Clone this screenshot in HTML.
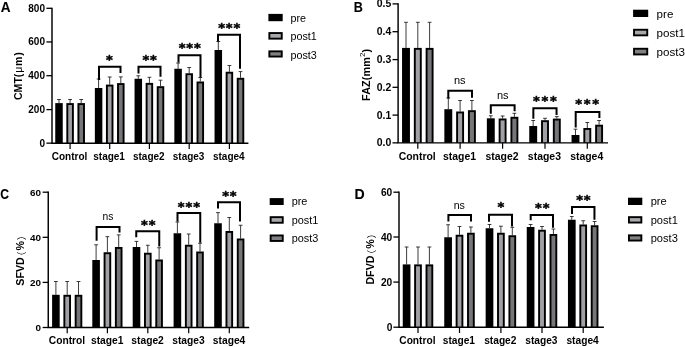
<!DOCTYPE html>
<html><head><meta charset="utf-8"><title>Figure</title>
<style>
html,body{margin:0;padding:0;background:#fff}
svg{display:block}
text{font-family:"Liberation Sans",sans-serif;fill:#000}
.tk{font-size:9.8px;font-weight:bold}
.yl{font-weight:bold;font-family:"Liberation Sans","Noto Sans CJK SC",sans-serif}
.ns{font-size:11px}
.st{font-weight:bold;stroke:#000;stroke-width:0.5px;font-family:"DejaVu Sans","Liberation Sans",sans-serif}
.la{font-weight:bold;stroke:#000;stroke-width:0.1px}
</style></head><body>
<svg width="685" height="347" viewBox="0 0 685 347">
<rect width="685" height="347" fill="#fff"/>
<path d="M59.00 103.10V99.50M57.10 99.50H60.90" stroke="#1a1a1a" stroke-width="0.85" fill="none"/>
<rect x="55.25" y="103.10" width="7.50" height="40.05" fill="#000"/>
<path d="M70.10 103.10V99.50M68.20 99.50H72.00" stroke="#1a1a1a" stroke-width="0.85" fill="none"/>
<rect x="66.35" y="103.10" width="7.50" height="40.05" fill="#000"/><rect x="68.25" y="105.00" width="3.70" height="38.15" fill="#a0a0a5"/>
<path d="M81.20 103.10V99.50M79.30 99.50H83.10" stroke="#1a1a1a" stroke-width="0.85" fill="none"/>
<rect x="77.45" y="103.10" width="7.50" height="40.05" fill="#000"/><rect x="79.35" y="105.00" width="3.70" height="38.15" fill="#767678"/>
<path d="M98.60 88.00V79.00M96.70 79.00H100.50" stroke="#1a1a1a" stroke-width="0.85" fill="none"/>
<rect x="94.85" y="88.00" width="7.50" height="55.15" fill="#000"/>
<path d="M109.70 84.60V77.00M107.80 77.00H111.60" stroke="#1a1a1a" stroke-width="0.85" fill="none"/>
<rect x="105.95" y="84.60" width="7.50" height="58.55" fill="#000"/><rect x="107.85" y="86.50" width="3.70" height="56.65" fill="#a0a0a5"/>
<path d="M120.80 83.10V76.90M118.90 76.90H122.70" stroke="#1a1a1a" stroke-width="0.85" fill="none"/>
<rect x="117.05" y="83.10" width="7.50" height="60.05" fill="#000"/><rect x="118.95" y="85.00" width="3.70" height="58.15" fill="#767678"/>
<path d="M138.30 78.75V75.80M136.40 75.80H140.20" stroke="#1a1a1a" stroke-width="0.85" fill="none"/>
<rect x="134.55" y="78.75" width="7.50" height="64.40" fill="#000"/>
<path d="M149.40 82.90V77.30M147.50 77.30H151.30" stroke="#1a1a1a" stroke-width="0.85" fill="none"/>
<rect x="145.65" y="82.90" width="7.50" height="60.25" fill="#000"/><rect x="147.55" y="84.80" width="3.70" height="58.35" fill="#a0a0a5"/>
<path d="M160.50 86.20V80.20M158.60 80.20H162.40" stroke="#1a1a1a" stroke-width="0.85" fill="none"/>
<rect x="156.75" y="86.20" width="7.50" height="56.95" fill="#000"/><rect x="158.65" y="88.10" width="3.70" height="55.05" fill="#767678"/>
<path d="M178.10 68.75V63.00M176.20 63.00H180.00" stroke="#1a1a1a" stroke-width="0.85" fill="none"/>
<rect x="174.35" y="68.75" width="7.50" height="74.40" fill="#000"/>
<path d="M189.20 73.25V67.50M187.30 67.50H191.10" stroke="#1a1a1a" stroke-width="0.85" fill="none"/>
<rect x="185.45" y="73.25" width="7.50" height="69.90" fill="#000"/><rect x="187.35" y="75.15" width="3.70" height="68.00" fill="#a0a0a5"/>
<path d="M200.30 81.50V77.50M198.40 77.50H202.20" stroke="#1a1a1a" stroke-width="0.85" fill="none"/>
<rect x="196.55" y="81.50" width="7.50" height="61.65" fill="#000"/><rect x="198.45" y="83.40" width="3.70" height="59.75" fill="#767678"/>
<path d="M218.30 50.00V41.50M216.40 41.50H220.20" stroke="#1a1a1a" stroke-width="0.85" fill="none"/>
<rect x="214.55" y="50.00" width="7.50" height="93.15" fill="#000"/>
<path d="M229.40 71.75V65.50M227.50 65.50H231.30" stroke="#1a1a1a" stroke-width="0.85" fill="none"/>
<rect x="225.65" y="71.75" width="7.50" height="71.40" fill="#000"/><rect x="227.55" y="73.65" width="3.70" height="69.50" fill="#a0a0a5"/>
<path d="M240.50 77.80V71.60M238.60 71.60H242.40" stroke="#1a1a1a" stroke-width="0.85" fill="none"/>
<rect x="236.75" y="77.80" width="7.50" height="65.35" fill="#000"/><rect x="238.65" y="79.70" width="3.70" height="63.45" fill="#767678"/>
<path d="M52.00 7.65V143.15H248.40" stroke="#000" stroke-width="1.45" fill="none"/>
<path d="M46.40 8.30H52.00" stroke="#000" stroke-width="1.3"/>
<text x="45.00" y="11.80" text-anchor="end" class="tk" style="font-size:10.0px">800</text>
<path d="M46.40 41.95H52.00" stroke="#000" stroke-width="1.3"/>
<text x="45.00" y="45.45" text-anchor="end" class="tk" style="font-size:10.0px">600</text>
<path d="M46.40 75.70H52.00" stroke="#000" stroke-width="1.3"/>
<text x="45.00" y="79.20" text-anchor="end" class="tk" style="font-size:10.0px">400</text>
<path d="M46.40 109.60H52.00" stroke="#000" stroke-width="1.3"/>
<text x="45.00" y="113.10" text-anchor="end" class="tk" style="font-size:10.0px">200</text>
<path d="M46.40 143.15H52.00" stroke="#000" stroke-width="1.3"/>
<text x="45.00" y="146.65" text-anchor="end" class="tk" style="font-size:10.0px">0</text>
<path d="M70.10 143.15v5.8" stroke="#000" stroke-width="1.2"/>
<text x="69.50" y="159.90" text-anchor="middle" class="tk" style="font-size:10.0px">Control</text>
<path d="M109.70 143.15v5.8" stroke="#000" stroke-width="1.2"/>
<text x="109.10" y="159.90" text-anchor="middle" class="tk" style="font-size:10.0px">stage1</text>
<path d="M149.40 143.15v5.8" stroke="#000" stroke-width="1.2"/>
<text x="148.80" y="159.90" text-anchor="middle" class="tk" style="font-size:10.0px">stage2</text>
<path d="M189.20 143.15v5.8" stroke="#000" stroke-width="1.2"/>
<text x="188.60" y="159.90" text-anchor="middle" class="tk" style="font-size:10.0px">stage3</text>
<path d="M229.40 143.15v5.8" stroke="#000" stroke-width="1.2"/>
<text x="228.80" y="159.90" text-anchor="middle" class="tk" style="font-size:10.0px">stage4</text>
<path d="M99.00 80.00V66.80H120.50V73.00" stroke="#000" stroke-width="2" fill="none" stroke-linejoin="miter"/>
<text x="109.90" y="63.79" text-anchor="middle" class="st" style="font-size:13px;letter-spacing:0.8px">*</text>
<path d="M138.50 73.40V66.80H160.50V76.80" stroke="#000" stroke-width="2" fill="none" stroke-linejoin="miter"/>
<text x="150.10" y="63.79" text-anchor="middle" class="st" style="font-size:13px;letter-spacing:0.8px">**</text>
<path d="M178.50 62.50V55.30H200.50V77.50" stroke="#000" stroke-width="2" fill="none" stroke-linejoin="miter"/>
<text x="190.10" y="52.29" text-anchor="middle" class="st" style="font-size:13px;letter-spacing:0.8px">***</text>
<path d="M218.00 41.50V34.75H240.00V68.80" stroke="#000" stroke-width="2" fill="none" stroke-linejoin="miter"/>
<text x="229.60" y="31.79" text-anchor="middle" class="st" style="font-size:13px;letter-spacing:0.8px">***</text>
<text transform="translate(22.0 100.1) rotate(-90)" class="yl" style="font-size:10.6px">CMT<tspan letter-spacing="0.75">(<tspan font-weight="normal">μ</tspan>m)</tspan></text>
<text transform="translate(0.7 11.8) scale(0.97 1)" class="la" style="font-size:14px">A</text>
<rect x="268.4" y="13.9" width="14.3" height="7.30" fill="#000"/>
<text x="290.5" y="21.5" class="lg" style="font-size:10.75px">pre</text>
<rect x="268.4" y="32.1" width="14.3" height="7.50" fill="#000"/>
<rect x="270.30" y="34.00" width="10.50" height="3.70" fill="#a8a8ab"/>
<text x="290.5" y="40" class="lg" style="font-size:10.75px">post1</text>
<rect x="268.4" y="50.4" width="14.3" height="7.10" fill="#000"/>
<rect x="270.30" y="52.30" width="10.50" height="3.30" fill="#808082"/>
<text x="290.5" y="58.5" class="lg" style="font-size:10.75px">post3</text>
<path d="M406.00 47.90V22.30M404.10 22.30H407.90" stroke="#1a1a1a" stroke-width="0.85" fill="none"/>
<rect x="402.05" y="47.90" width="7.90" height="94.95" fill="#000"/>
<path d="M417.80 47.90V22.30M415.90 22.30H419.70" stroke="#1a1a1a" stroke-width="0.85" fill="none"/>
<rect x="413.85" y="47.90" width="7.90" height="94.95" fill="#000"/><rect x="415.75" y="49.80" width="4.10" height="93.05" fill="#a0a0a5"/>
<path d="M429.60 47.90V22.30M427.70 22.30H431.50" stroke="#1a1a1a" stroke-width="0.85" fill="none"/>
<rect x="425.65" y="47.90" width="7.90" height="94.95" fill="#000"/><rect x="427.55" y="49.80" width="4.10" height="93.05" fill="#767678"/>
<path d="M448.30 109.20V98.00M446.40 98.00H450.20" stroke="#1a1a1a" stroke-width="0.85" fill="none"/>
<rect x="444.35" y="109.20" width="7.90" height="33.65" fill="#000"/>
<path d="M460.10 111.50V100.50M458.20 100.50H462.00" stroke="#1a1a1a" stroke-width="0.85" fill="none"/>
<rect x="456.15" y="111.50" width="7.90" height="31.35" fill="#000"/><rect x="458.05" y="113.40" width="4.10" height="29.45" fill="#a0a0a5"/>
<path d="M471.90 110.20V100.50M470.00 100.50H473.80" stroke="#1a1a1a" stroke-width="0.85" fill="none"/>
<rect x="467.95" y="110.20" width="7.90" height="32.65" fill="#000"/><rect x="469.85" y="112.10" width="4.10" height="30.75" fill="#767678"/>
<path d="M490.80 118.30V115.80M488.90 115.80H492.70" stroke="#1a1a1a" stroke-width="0.85" fill="none"/>
<rect x="486.85" y="118.30" width="7.90" height="24.55" fill="#000"/>
<path d="M502.60 118.50V116.00M500.70 116.00H504.50" stroke="#1a1a1a" stroke-width="0.85" fill="none"/>
<rect x="498.65" y="118.50" width="7.90" height="24.35" fill="#000"/><rect x="500.55" y="120.40" width="4.10" height="22.45" fill="#a0a0a5"/>
<path d="M514.40 116.80V113.30M512.50 113.30H516.30" stroke="#1a1a1a" stroke-width="0.85" fill="none"/>
<rect x="510.45" y="116.80" width="7.90" height="26.05" fill="#000"/><rect x="512.35" y="118.70" width="4.10" height="24.15" fill="#767678"/>
<path d="M533.20 126.00V120.50M531.30 120.50H535.10" stroke="#1a1a1a" stroke-width="0.85" fill="none"/>
<rect x="529.25" y="126.00" width="7.90" height="16.85" fill="#000"/>
<path d="M545.00 120.20V118.30M543.10 118.30H546.90" stroke="#1a1a1a" stroke-width="0.85" fill="none"/>
<rect x="541.05" y="120.20" width="7.90" height="22.65" fill="#000"/><rect x="542.95" y="122.10" width="4.10" height="20.75" fill="#a0a0a5"/>
<path d="M556.80 118.60V116.60M554.90 116.60H558.70" stroke="#1a1a1a" stroke-width="0.85" fill="none"/>
<rect x="552.85" y="118.60" width="7.90" height="24.25" fill="#000"/><rect x="554.75" y="120.50" width="4.10" height="22.35" fill="#767678"/>
<path d="M575.50 135.00V129.20M573.60 129.20H577.40" stroke="#1a1a1a" stroke-width="0.85" fill="none"/>
<rect x="571.55" y="135.00" width="7.90" height="7.85" fill="#000"/>
<path d="M587.30 128.00V122.50M585.40 122.50H589.20" stroke="#1a1a1a" stroke-width="0.85" fill="none"/>
<rect x="583.35" y="128.00" width="7.90" height="14.85" fill="#000"/><rect x="585.25" y="129.90" width="4.10" height="12.95" fill="#a0a0a5"/>
<path d="M599.10 124.70V120.50M597.20 120.50H601.00" stroke="#1a1a1a" stroke-width="0.85" fill="none"/>
<rect x="595.15" y="124.70" width="7.90" height="18.15" fill="#000"/><rect x="597.05" y="126.60" width="4.10" height="16.25" fill="#767678"/>
<path d="M398.10 3.25V142.85H608.00" stroke="#000" stroke-width="1.45" fill="none"/>
<path d="M392.50 3.90H398.10" stroke="#000" stroke-width="1.3"/>
<text x="391.20" y="7.40" text-anchor="end" class="tk" style="font-size:10.45px">0.5</text>
<path d="M392.50 31.70H398.10" stroke="#000" stroke-width="1.3"/>
<text x="391.20" y="35.20" text-anchor="end" class="tk" style="font-size:10.45px">0.4</text>
<path d="M392.50 59.60H398.10" stroke="#000" stroke-width="1.3"/>
<text x="391.20" y="63.10" text-anchor="end" class="tk" style="font-size:10.45px">0.3</text>
<path d="M392.50 87.30H398.10" stroke="#000" stroke-width="1.3"/>
<text x="391.20" y="90.80" text-anchor="end" class="tk" style="font-size:10.45px">0.2</text>
<path d="M392.50 115.10H398.10" stroke="#000" stroke-width="1.3"/>
<text x="391.20" y="118.60" text-anchor="end" class="tk" style="font-size:10.45px">0.1</text>
<path d="M392.50 142.85H398.10" stroke="#000" stroke-width="1.3"/>
<text x="391.20" y="146.35" text-anchor="end" class="tk" style="font-size:10.45px">0.0</text>
<path d="M417.80 142.85v5.8" stroke="#000" stroke-width="1.2"/>
<text x="417.20" y="160.00" text-anchor="middle" class="tk" style="font-size:10.45px">Control</text>
<path d="M460.10 142.85v5.8" stroke="#000" stroke-width="1.2"/>
<text x="459.50" y="160.00" text-anchor="middle" class="tk" style="font-size:10.45px">stage1</text>
<path d="M502.60 142.85v5.8" stroke="#000" stroke-width="1.2"/>
<text x="502.00" y="160.00" text-anchor="middle" class="tk" style="font-size:10.45px">stage2</text>
<path d="M545.00 142.85v5.8" stroke="#000" stroke-width="1.2"/>
<text x="544.40" y="160.00" text-anchor="middle" class="tk" style="font-size:10.45px">stage3</text>
<path d="M587.30 142.85v5.8" stroke="#000" stroke-width="1.2"/>
<text x="586.70" y="160.00" text-anchor="middle" class="tk" style="font-size:10.45px">stage4</text>
<path d="M448.30 98.50V90.80H472.00V97.75" stroke="#000" stroke-width="2" fill="none" stroke-linejoin="miter"/>
<text x="459.80" y="84.30" text-anchor="middle" class="ns" style="font-size:11px">ns</text>
<path d="M490.80 113.75V105.20H514.60V111.25" stroke="#000" stroke-width="2" fill="none" stroke-linejoin="miter"/>
<text x="502.70" y="98.50" text-anchor="middle" class="ns" style="font-size:11px">ns</text>
<path d="M533.35 118.75V108.20H556.55V115.00" stroke="#000" stroke-width="2" fill="none" stroke-linejoin="miter"/>
<text x="545.65" y="104.63" text-anchor="middle" class="st" style="font-size:13px;letter-spacing:1.7px">***</text>
<path d="M575.70 127.50V112.00H599.40V118.00" stroke="#000" stroke-width="2" fill="none" stroke-linejoin="miter"/>
<text x="588.05" y="107.63" text-anchor="middle" class="st" style="font-size:13px;letter-spacing:1.7px">***</text>
<text transform="translate(370.4 100.9) rotate(-90)" class="yl" style="font-size:10.8px"><tspan letter-spacing="0.1">FAZ(mm<tspan dy="-5.2" font-size="8" font-weight="normal">2</tspan><tspan dy="5.2">)</tspan></tspan></text>
<text transform="translate(353.8 11.9) scale(0.84 1)" class="la" style="font-size:15px">B</text>
<rect x="633.1" y="9.7" width="15.1" height="7.30" fill="#000"/>
<text x="656.6" y="17.6" class="lg" style="font-size:11.6px">pre</text>
<rect x="633.1" y="28.8" width="15.1" height="7.50" fill="#000"/>
<rect x="635.00" y="30.70" width="11.30" height="3.70" fill="#a8a8ab"/>
<text x="656.6" y="36.9" class="lg" style="font-size:11.6px">post1</text>
<rect x="633.1" y="47.8" width="15.1" height="7.60" fill="#000"/>
<rect x="635.00" y="49.70" width="11.30" height="3.80" fill="#808082"/>
<text x="656.6" y="55.8" class="lg" style="font-size:11.6px">post3</text>
<path d="M55.90 294.80V281.50M54.00 281.50H57.80" stroke="#1a1a1a" stroke-width="0.85" fill="none"/>
<rect x="52.10" y="294.80" width="7.60" height="32.70" fill="#000"/>
<path d="M67.20 294.80V281.50M65.30 281.50H69.10" stroke="#1a1a1a" stroke-width="0.85" fill="none"/>
<rect x="63.40" y="294.80" width="7.60" height="32.70" fill="#000"/><rect x="65.30" y="296.70" width="3.80" height="30.80" fill="#a0a0a5"/>
<path d="M78.50 294.80V281.50M76.60 281.50H80.40" stroke="#1a1a1a" stroke-width="0.85" fill="none"/>
<rect x="74.70" y="294.80" width="7.60" height="32.70" fill="#000"/><rect x="76.60" y="296.70" width="3.80" height="30.80" fill="#767678"/>
<path d="M96.10 260.00V244.80M94.20 244.80H98.00" stroke="#1a1a1a" stroke-width="0.85" fill="none"/>
<rect x="92.30" y="260.00" width="7.60" height="67.50" fill="#000"/>
<path d="M107.40 252.25V236.70M105.50 236.70H109.30" stroke="#1a1a1a" stroke-width="0.85" fill="none"/>
<rect x="103.60" y="252.25" width="7.60" height="75.25" fill="#000"/><rect x="105.50" y="254.15" width="3.80" height="73.35" fill="#a0a0a5"/>
<path d="M118.70 247.00V234.90M116.80 234.90H120.60" stroke="#1a1a1a" stroke-width="0.85" fill="none"/>
<rect x="114.90" y="247.00" width="7.60" height="80.50" fill="#000"/><rect x="116.80" y="248.90" width="3.80" height="78.60" fill="#767678"/>
<path d="M136.50 247.00V241.40M134.60 241.40H138.40" stroke="#1a1a1a" stroke-width="0.85" fill="none"/>
<rect x="132.70" y="247.00" width="7.60" height="80.50" fill="#000"/>
<path d="M147.80 252.75V245.30M145.90 245.30H149.70" stroke="#1a1a1a" stroke-width="0.85" fill="none"/>
<rect x="144.00" y="252.75" width="7.60" height="74.75" fill="#000"/><rect x="145.90" y="254.65" width="3.80" height="72.85" fill="#a0a0a5"/>
<path d="M159.10 259.50V247.75M157.20 247.75H161.00" stroke="#1a1a1a" stroke-width="0.85" fill="none"/>
<rect x="155.30" y="259.50" width="7.60" height="68.00" fill="#000"/><rect x="157.20" y="261.40" width="3.80" height="66.10" fill="#767678"/>
<path d="M177.40 233.25V222.00M175.50 222.00H179.30" stroke="#1a1a1a" stroke-width="0.85" fill="none"/>
<rect x="173.60" y="233.25" width="7.60" height="94.25" fill="#000"/>
<path d="M188.70 244.75V234.00M186.80 234.00H190.60" stroke="#1a1a1a" stroke-width="0.85" fill="none"/>
<rect x="184.90" y="244.75" width="7.60" height="82.75" fill="#000"/><rect x="186.80" y="246.65" width="3.80" height="80.85" fill="#a0a0a5"/>
<path d="M200.00 251.50V243.25M198.10 243.25H201.90" stroke="#1a1a1a" stroke-width="0.85" fill="none"/>
<rect x="196.20" y="251.50" width="7.60" height="76.00" fill="#000"/><rect x="198.10" y="253.40" width="3.80" height="74.10" fill="#767678"/>
<path d="M218.00 223.25V212.60M216.10 212.60H219.90" stroke="#1a1a1a" stroke-width="0.85" fill="none"/>
<rect x="214.20" y="223.25" width="7.60" height="104.25" fill="#000"/>
<path d="M229.30 231.00V217.50M227.40 217.50H231.20" stroke="#1a1a1a" stroke-width="0.85" fill="none"/>
<rect x="225.50" y="231.00" width="7.60" height="96.50" fill="#000"/><rect x="227.40" y="232.90" width="3.80" height="94.60" fill="#a0a0a5"/>
<path d="M240.60 238.50V225.25M238.70 225.25H242.50" stroke="#1a1a1a" stroke-width="0.85" fill="none"/>
<rect x="236.80" y="238.50" width="7.60" height="89.00" fill="#000"/><rect x="238.70" y="240.40" width="3.80" height="87.10" fill="#767678"/>
<path d="M48.25 191.55V327.50H249.20" stroke="#000" stroke-width="1.45" fill="none"/>
<path d="M42.65 192.20H48.25" stroke="#000" stroke-width="1.3"/>
<text x="41.00" y="195.70" text-anchor="end" class="tk" style="font-size:9.9px">60</text>
<path d="M42.65 237.30H48.25" stroke="#000" stroke-width="1.3"/>
<text x="41.00" y="240.80" text-anchor="end" class="tk" style="font-size:9.9px">40</text>
<path d="M42.65 282.40H48.25" stroke="#000" stroke-width="1.3"/>
<text x="41.00" y="285.90" text-anchor="end" class="tk" style="font-size:9.9px">20</text>
<path d="M42.65 327.50H48.25" stroke="#000" stroke-width="1.3"/>
<text x="41.00" y="331.00" text-anchor="end" class="tk" style="font-size:9.9px">0</text>
<path d="M67.20 327.50v5.8" stroke="#000" stroke-width="1.2"/>
<text x="67.00" y="344.10" text-anchor="middle" class="tk" style="font-size:10.25px">Control</text>
<path d="M107.40 327.50v5.8" stroke="#000" stroke-width="1.2"/>
<text x="107.20" y="344.10" text-anchor="middle" class="tk" style="font-size:10.25px">stage1</text>
<path d="M147.80 327.50v5.8" stroke="#000" stroke-width="1.2"/>
<text x="147.60" y="344.10" text-anchor="middle" class="tk" style="font-size:10.25px">stage2</text>
<path d="M188.70 327.50v5.8" stroke="#000" stroke-width="1.2"/>
<text x="188.50" y="344.10" text-anchor="middle" class="tk" style="font-size:10.25px">stage3</text>
<path d="M229.30 327.50v5.8" stroke="#000" stroke-width="1.2"/>
<text x="229.10" y="344.10" text-anchor="middle" class="tk" style="font-size:10.25px">stage4</text>
<path d="M96.60 240.70V227.00H119.50V232.50" stroke="#000" stroke-width="2" fill="none" stroke-linejoin="miter"/>
<text x="108.00" y="220.40" text-anchor="middle" class="ns" style="font-size:10.3px">ns</text>
<path d="M136.25 237.15V231.15H159.25V246.50" stroke="#000" stroke-width="2" fill="none" stroke-linejoin="miter"/>
<text x="148.75" y="228.99" text-anchor="middle" class="st" style="font-size:13px;letter-spacing:0.9px">**</text>
<path d="M177.50 221.50V212.95H200.25V242.80" stroke="#000" stroke-width="2" fill="none" stroke-linejoin="miter"/>
<text x="189.35" y="210.89" text-anchor="middle" class="st" style="font-size:13px;letter-spacing:0.9px">***</text>
<path d="M218.00 208.40V202.30H240.00V221.50" stroke="#000" stroke-width="2" fill="none" stroke-linejoin="miter"/>
<text x="229.85" y="199.59" text-anchor="middle" class="st" style="font-size:13px;letter-spacing:0.9px">**</text>
<text transform="translate(24.2 285.7) rotate(-90)" class="yl" style="font-size:10.7px">SFVD<tspan font-weight="normal" font-size="9.5" dx="-3.74" dy="0.3">（</tspan><tspan dx="1.02" dy="-0.3">%</tspan><tspan font-weight="normal" font-size="9.5" dx="0.75" dy="0.3">）</tspan></text>
<text transform="translate(0.3 198.65) scale(0.8 1)" class="la" style="font-size:15.2px">C</text>
<rect x="269.7" y="198.1" width="14.0" height="6.90" fill="#000"/>
<text x="291.7" y="205.1" class="lg" style="font-size:10.9px">pre</text>
<rect x="269.7" y="216.2" width="14.0" height="7.50" fill="#000"/>
<rect x="271.60" y="218.10" width="10.20" height="3.70" fill="#a8a8ab"/>
<text x="291.7" y="223.7" class="lg" style="font-size:10.9px">post1</text>
<rect x="269.7" y="234.5" width="14.0" height="7.40" fill="#000"/>
<rect x="271.60" y="236.40" width="10.20" height="3.60" fill="#808082"/>
<text x="291.7" y="242.3" class="lg" style="font-size:10.9px">post3</text>
<path d="M406.60 264.40V247.00M404.70 247.00H408.50" stroke="#1a1a1a" stroke-width="0.85" fill="none"/>
<rect x="402.75" y="264.40" width="7.70" height="62.80" fill="#000"/>
<path d="M418.00 264.40V247.00M416.10 247.00H419.90" stroke="#1a1a1a" stroke-width="0.85" fill="none"/>
<rect x="414.15" y="264.40" width="7.70" height="62.80" fill="#000"/><rect x="416.05" y="266.30" width="3.90" height="60.90" fill="#a0a0a5"/>
<path d="M429.40 264.40V247.00M427.50 247.00H431.30" stroke="#1a1a1a" stroke-width="0.85" fill="none"/>
<rect x="425.55" y="264.40" width="7.70" height="62.80" fill="#000"/><rect x="427.45" y="266.30" width="3.90" height="60.90" fill="#767678"/>
<path d="M448.10 237.25V224.75M446.20 224.75H450.00" stroke="#1a1a1a" stroke-width="0.85" fill="none"/>
<rect x="444.25" y="237.25" width="7.70" height="89.95" fill="#000"/>
<path d="M459.50 234.75V226.50M457.60 226.50H461.40" stroke="#1a1a1a" stroke-width="0.85" fill="none"/>
<rect x="455.65" y="234.75" width="7.70" height="92.45" fill="#000"/><rect x="457.55" y="236.65" width="3.90" height="90.55" fill="#a0a0a5"/>
<path d="M470.90 232.75V227.00M469.00 227.00H472.80" stroke="#1a1a1a" stroke-width="0.85" fill="none"/>
<rect x="467.05" y="232.75" width="7.70" height="94.45" fill="#000"/><rect x="468.95" y="234.65" width="3.90" height="92.55" fill="#767678"/>
<path d="M489.50 228.25V224.50M487.60 224.50H491.40" stroke="#1a1a1a" stroke-width="0.85" fill="none"/>
<rect x="485.65" y="228.25" width="7.70" height="98.95" fill="#000"/>
<path d="M500.90 232.75V226.20M499.00 226.20H502.80" stroke="#1a1a1a" stroke-width="0.85" fill="none"/>
<rect x="497.05" y="232.75" width="7.70" height="94.45" fill="#000"/><rect x="498.95" y="234.65" width="3.90" height="92.55" fill="#a0a0a5"/>
<path d="M512.30 235.25V227.30M510.40 227.30H514.20" stroke="#1a1a1a" stroke-width="0.85" fill="none"/>
<rect x="508.45" y="235.25" width="7.70" height="91.95" fill="#000"/><rect x="510.35" y="237.15" width="3.90" height="90.05" fill="#767678"/>
<path d="M530.60 227.00V224.50M528.70 224.50H532.50" stroke="#1a1a1a" stroke-width="0.85" fill="none"/>
<rect x="526.75" y="227.00" width="7.70" height="100.20" fill="#000"/>
<path d="M542.00 229.75V226.50M540.10 226.50H543.90" stroke="#1a1a1a" stroke-width="0.85" fill="none"/>
<rect x="538.15" y="229.75" width="7.70" height="97.45" fill="#000"/><rect x="540.05" y="231.65" width="3.90" height="95.55" fill="#a0a0a5"/>
<path d="M553.40 234.00V229.00M551.50 229.00H555.30" stroke="#1a1a1a" stroke-width="0.85" fill="none"/>
<rect x="549.55" y="234.00" width="7.70" height="93.20" fill="#000"/><rect x="551.45" y="235.90" width="3.90" height="91.30" fill="#767678"/>
<path d="M571.80 219.75V216.50M569.90 216.50H573.70" stroke="#1a1a1a" stroke-width="0.85" fill="none"/>
<rect x="567.95" y="219.75" width="7.70" height="107.45" fill="#000"/>
<path d="M583.20 224.50V220.75M581.30 220.75H585.10" stroke="#1a1a1a" stroke-width="0.85" fill="none"/>
<rect x="579.35" y="224.50" width="7.70" height="102.70" fill="#000"/><rect x="581.25" y="226.40" width="3.90" height="100.80" fill="#a0a0a5"/>
<path d="M594.60 225.25V221.50M592.70 221.50H596.50" stroke="#1a1a1a" stroke-width="0.85" fill="none"/>
<rect x="590.75" y="225.25" width="7.70" height="101.95" fill="#000"/><rect x="592.65" y="227.15" width="3.90" height="100.05" fill="#767678"/>
<path d="M399.00 191.55V327.20H603.90" stroke="#000" stroke-width="1.45" fill="none"/>
<path d="M393.40 192.20H399.00" stroke="#000" stroke-width="1.3"/>
<text x="392.30" y="195.70" text-anchor="end" class="tk" style="font-size:10.2px">60</text>
<path d="M393.40 237.00H399.00" stroke="#000" stroke-width="1.3"/>
<text x="392.30" y="240.50" text-anchor="end" class="tk" style="font-size:10.2px">40</text>
<path d="M393.40 282.10H399.00" stroke="#000" stroke-width="1.3"/>
<text x="392.30" y="285.60" text-anchor="end" class="tk" style="font-size:10.2px">20</text>
<path d="M393.40 327.20H399.00" stroke="#000" stroke-width="1.3"/>
<text x="392.30" y="330.70" text-anchor="end" class="tk" style="font-size:10.2px">0</text>
<path d="M418.00 327.20v5.8" stroke="#000" stroke-width="1.2"/>
<text x="417.40" y="344.30" text-anchor="middle" class="tk" style="font-size:10.2px">Control</text>
<path d="M459.50 327.20v5.8" stroke="#000" stroke-width="1.2"/>
<text x="458.90" y="344.30" text-anchor="middle" class="tk" style="font-size:10.2px">stage1</text>
<path d="M500.90 327.20v5.8" stroke="#000" stroke-width="1.2"/>
<text x="500.30" y="344.30" text-anchor="middle" class="tk" style="font-size:10.2px">stage2</text>
<path d="M542.00 327.20v5.8" stroke="#000" stroke-width="1.2"/>
<text x="541.40" y="344.30" text-anchor="middle" class="tk" style="font-size:10.2px">stage3</text>
<path d="M583.20 327.20v5.8" stroke="#000" stroke-width="1.2"/>
<text x="582.60" y="344.30" text-anchor="middle" class="tk" style="font-size:10.2px">stage4</text>
<path d="M448.40 221.50V215.00H471.00V221.50" stroke="#000" stroke-width="2" fill="none" stroke-linejoin="miter"/>
<text x="459.30" y="209.20" text-anchor="middle" class="ns" style="font-size:10.6px">ns</text>
<path d="M489.00 221.70V214.75H512.00V226.60" stroke="#000" stroke-width="2" fill="none" stroke-linejoin="miter"/>
<text x="501.45" y="211.20" text-anchor="middle" class="st" style="font-size:13px;letter-spacing:0.9px">*</text>
<path d="M530.70 220.25V215.00H553.00V227.75" stroke="#000" stroke-width="2" fill="none" stroke-linejoin="miter"/>
<text x="542.75" y="212.40" text-anchor="middle" class="st" style="font-size:13px;letter-spacing:0.9px">**</text>
<path d="M572.00 214.00V207.00H594.45V219.70" stroke="#000" stroke-width="2" fill="none" stroke-linejoin="miter"/>
<text x="583.85" y="203.79" text-anchor="middle" class="st" style="font-size:13px;letter-spacing:0.9px">**</text>
<text transform="translate(374.4 284.6) rotate(-90)" class="yl" style="font-size:10.7px">DFVD<tspan font-weight="normal" font-size="9.5" dx="-3.74" dy="0.3">（</tspan><tspan dx="1.02" dy="-0.3">%</tspan><tspan font-weight="normal" font-size="9.5" dx="0.75" dy="0.3">）</tspan></text>
<text transform="translate(354.4 198.8) scale(0.94 1)" class="la" style="font-size:15px">D</text>
<rect x="628.0" y="197.7" width="14.3" height="7.30" fill="#000"/>
<text x="650.7" y="205.1" class="lg" style="font-size:11.1px">pre</text>
<rect x="628.0" y="216.2" width="14.3" height="7.30" fill="#000"/>
<rect x="629.90" y="218.10" width="10.50" height="3.50" fill="#a8a8ab"/>
<text x="650.7" y="223.5" class="lg" style="font-size:11.1px">post1</text>
<rect x="628.0" y="234.4" width="14.3" height="7.10" fill="#000"/>
<rect x="629.90" y="236.30" width="10.50" height="3.30" fill="#808082"/>
<text x="650.7" y="241.8" class="lg" style="font-size:11.1px">post3</text>
</svg>
</body></html>
